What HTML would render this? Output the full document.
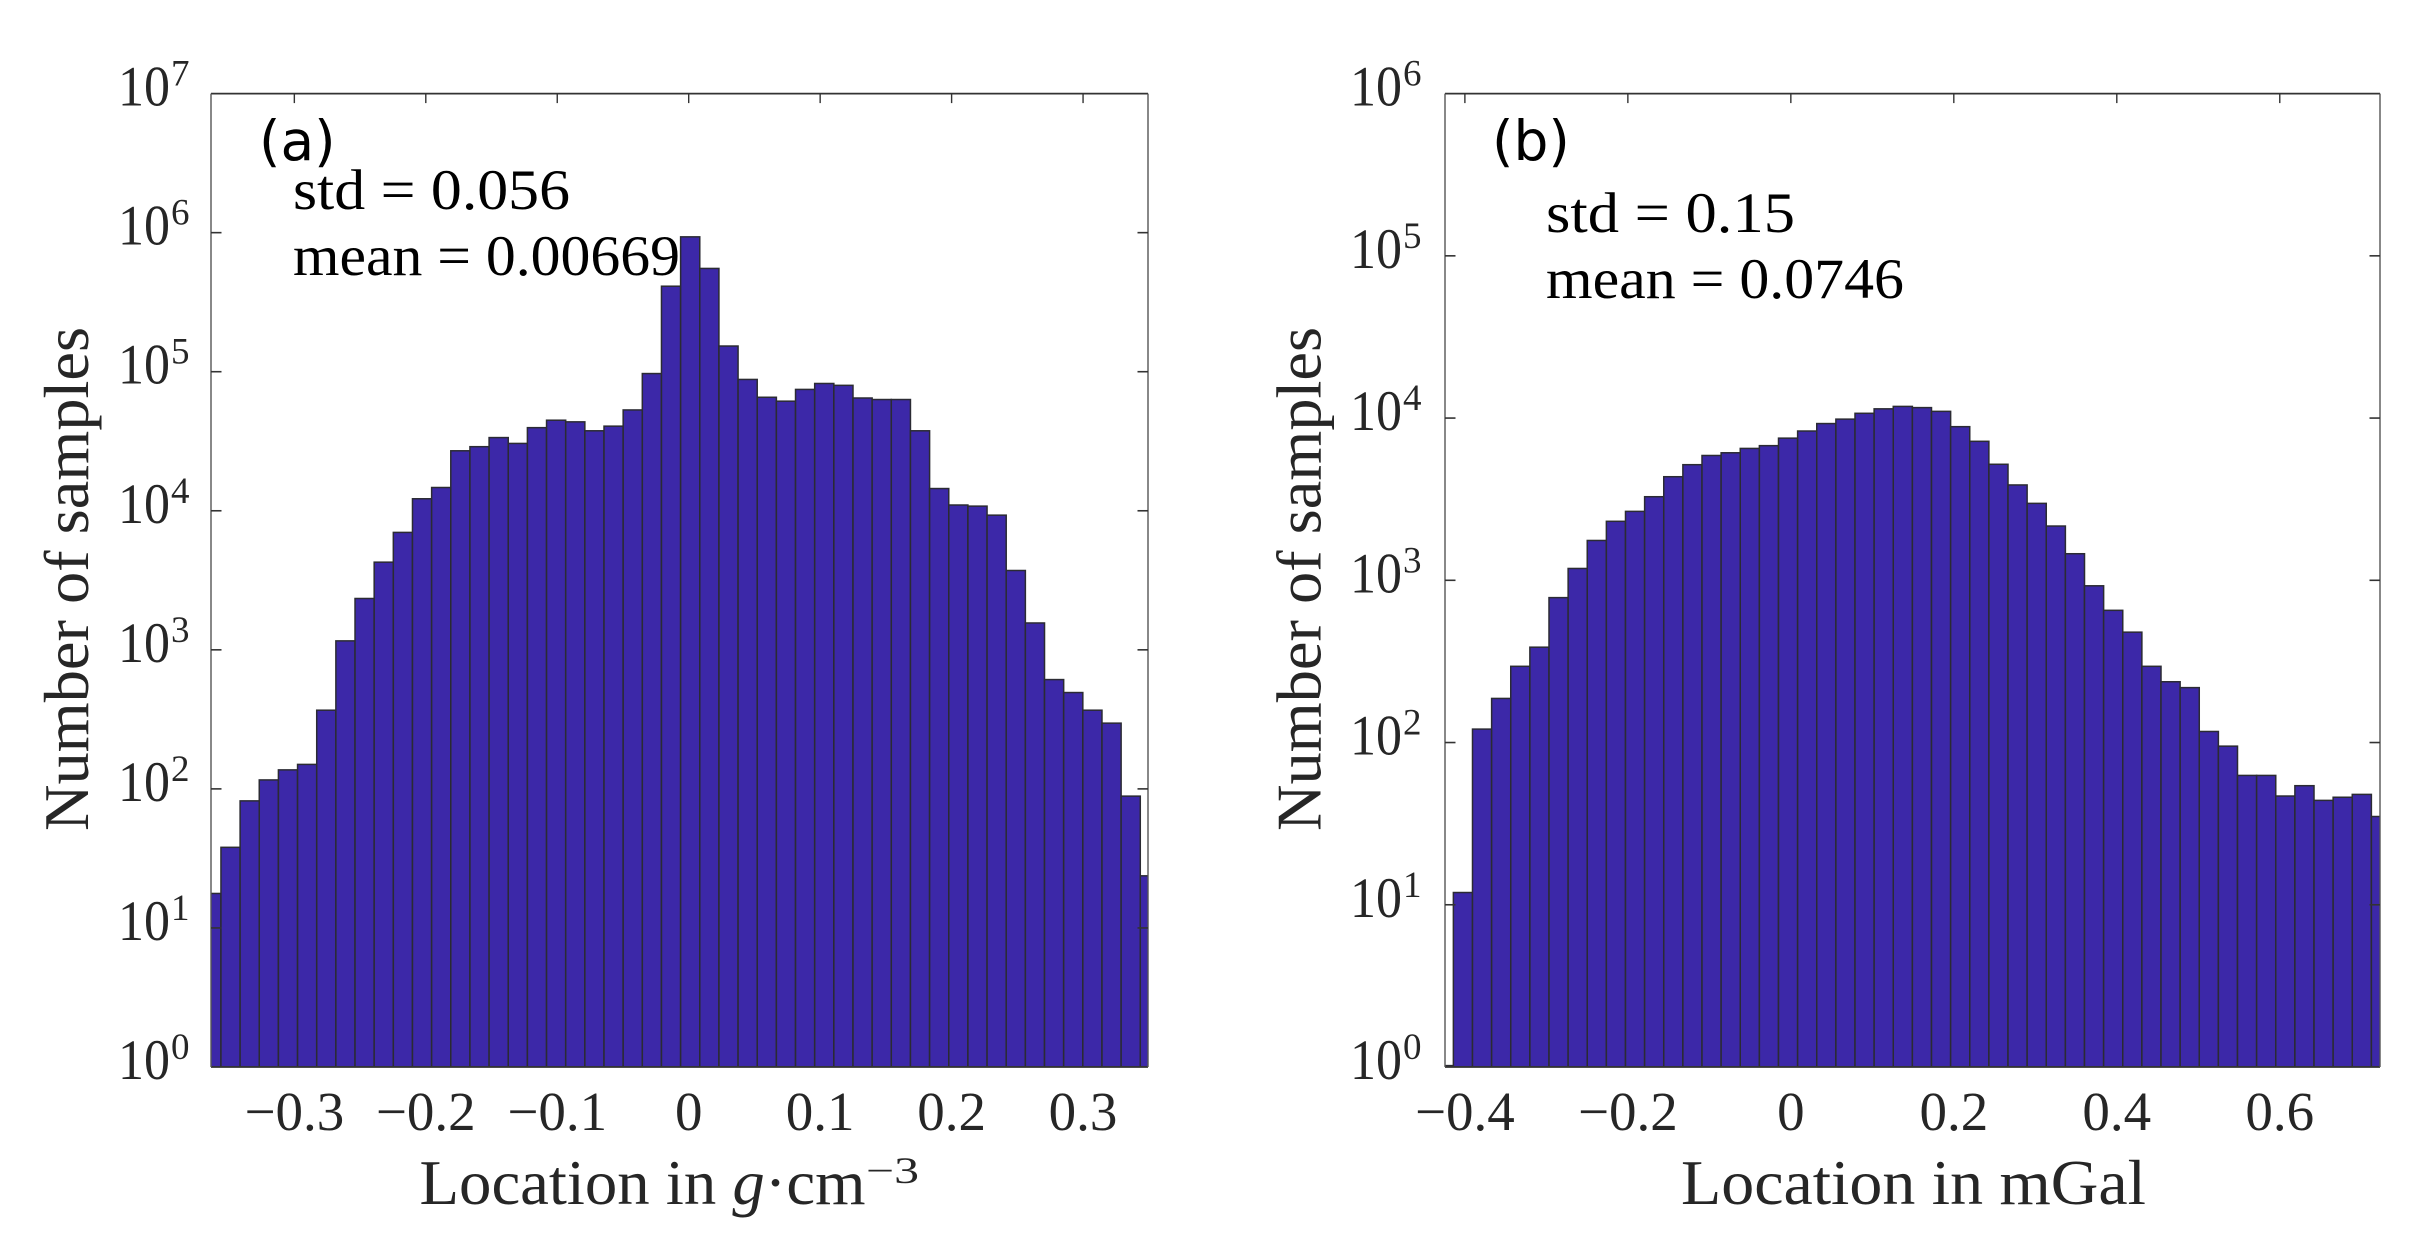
<!DOCTYPE html>
<html lang="en">
<head>
<meta charset="utf-8">
<title>Histograms of density and gravity misfit</title>
<style>
html,body{margin:0;padding:0;background:#fff;width:2427px;height:1257px;overflow:hidden}
svg{display:block}
text{font-family:"Liberation Serif","DejaVu Serif",serif;fill:#262626}
.tick{font-size:55px}
.ytick{font-size:57px}
.sup{font-size:37px}
.ann{font-size:57px;fill:#000}
.axt{font-size:63px}
.tag{font-family:"DejaVu Sans","Liberation Sans",sans-serif;font-size:55px;fill:#000}
</style>
</head>
<body>
<svg id="figure" xmlns="http://www.w3.org/2000/svg" width="2427" height="1257" viewBox="0 0 2427 1257">
  <rect width="2427" height="1257" fill="#fff"/>
  <defs>
    <clipPath id="clip-a"><rect x="211" y="93.6" width="937" height="973.4"/></clipPath>
    <clipPath id="clip-b"><rect x="1445" y="93.6" width="935" height="973.4"/></clipPath>
  </defs>
  <g id="panel-a"></g>
  <g id="panel-b"></g>

  <text class="tag" x="259" y="160">(a)</text>
  <text class="ann" x="293" y="209" textLength="277" lengthAdjust="spacingAndGlyphs">std = 0.056</text>
  <text class="ann" x="293" y="275" textLength="387" lengthAdjust="spacingAndGlyphs">mean = 0.00669</text>
  <text class="axt" transform="translate(88 831) rotate(-90)" textLength="504" lengthAdjust="spacingAndGlyphs">Number of samples</text>
  <text class="axt" x="419.5" y="1204" textLength="446" lengthAdjust="spacingAndGlyphs">Location in <tspan font-style="italic">g</tspan>·cm</text>
  <text class="sup" x="866" y="1183" textLength="53" lengthAdjust="spacingAndGlyphs">−3</text>

  <text class="tag" x="1492" y="160">(b)</text>
  <text class="ann" x="1546" y="232" textLength="249" lengthAdjust="spacingAndGlyphs">std = 0.15</text>
  <text class="ann" x="1546" y="298" textLength="358" lengthAdjust="spacingAndGlyphs">mean = 0.0746</text>
  <text class="axt" transform="translate(1320.6 831) rotate(-90)" textLength="504" lengthAdjust="spacingAndGlyphs">Number of samples</text>
  <text class="axt" x="1681" y="1204" textLength="465" lengthAdjust="spacingAndGlyphs">Location in mGal</text>
</svg>
<script>
// Panel (a): density histogram
const binStartA = -0.3704;
const binWidthA = 0.01457;
const countsA = [17.7,38,82,116,137,150,368,1160,2340,4270,6990,12200,14700,27000,28900,33600,30500,39600,44800,43600,37600,40600,53100,97000,412000,933000,553000,153000,88000,65500,61400,74600,82300,79800,64700,63100,63100,37600,14450,11000,10800,9300,3720,1560,611,493,368,297,88.7,23.7];
const xDomainA = [-0.3634, 0.3494];
const xTickValuesA = [-0.3,-0.2,-0.1,0,0.1,0.2,0.3];
const xTickLabelsA = ['−0.3','−0.2','−0.1','0','0.1','0.2','0.3'];
const yExponentsA = [0,1,2,3,4,5,6,7];

// Panel (b): gravity histogram
const binStartB = -0.4376;
const binWidthB = 0.02347;
const countsB = [1.02,11.9,121,187,295,387,782,1183,1760,2310,2660,3275,4350,5160,5880,6110,6500,6760,7520,8320,9250,9850,10700,11400,11800,11600,11000,8850,7190,5190,3870,2980,2160,1458,925,653,479,295,237,218,117,95,62.7,62.7,46.8,54.2,44,46,47.9,35];
const xDomainB = [-0.4244, 0.723];
const xTickValuesB = [-0.4,-0.2,0,0.2,0.4,0.6];
const xTickLabelsB = ['−0.4','−0.2','0','0.2','0.4','0.6'];
const yExponentsB = [0,1,2,3,4,5,6];

const SVG_NS = 'http://www.w3.org/2000/svg';

function make(parent, tag, attrs) {
  const el = document.createElementNS(SVG_NS, tag);
  for (const k in attrs) el.setAttribute(k, attrs[k]);
  parent.appendChild(el);
  return el;
}

function drawPanel(cfg) {
  const g = document.getElementById(cfg.id);
  const L = cfg.left, R = cfg.right, T = 93.6, B = 1067;
  const xScale = v => L + (v - cfg.xDomain[0]) / (cfg.xDomain[1] - cfg.xDomain[0]) * (R - L);
  const maxExp = cfg.yExponents[cfg.yExponents.length - 1];
  const yScale = c => B - Math.log10(c) / maxExp * (B - T);

  const bars = make(g, 'g', {'clip-path': 'url(#' + cfg.clip + ')'});
  
  
  cfg.counts.forEach((c, i) => {
    const x0 = xScale(cfg.binStart + i * cfg.binWidth);
    const x1 = xScale(cfg.binStart + (i + 1) * cfg.binWidth);
    const y = yScale(c);
    const bar = make(bars, 'rect', {x: x0, y: y, width: x1 - x0, height: B - y, fill: '#3c28a8', stroke: '#2b2b33', 'stroke-width': 1.5});
    
    
  });

  const frame = make(g, 'g', {stroke: '#333', fill: 'none'});
  
  
  make(frame, 'line', {x1: L, y1: T, x2: R, y2: T, 'stroke-width': 1.8});
  make(frame, 'line', {x1: L, y1: B, x2: R, y2: B, 'stroke-width': 1.8});
  make(frame, 'line', {x1: L, y1: T, x2: L, y2: B, 'stroke-width': 1.4, stroke: '#555'});
  make(frame, 'line', {x1: R, y1: T, x2: R, y2: B, 'stroke-width': 1.4, stroke: '#555'});

  cfg.xTicks.forEach((v, i) => {
    const x = xScale(v);
    const tick = make(g, 'line', {x1: x, y1: T, x2: x, y2: T + 9.5, stroke: '#333', 'stroke-width': 1.4});
    
    
    const label = make(g, 'text', {x: x, y: 1130, 'text-anchor': 'middle', 'class': 'tick'});
    
    
    label.textContent = cfg.xLabels[i];
  });

  cfg.yExponents.forEach(e => {
    const y = yScale(Math.pow(10, e));
    if (e > 0 && e < maxExp) {
      const left = make(g, 'line', {x1: L, y1: y, x2: L + 10.5, y2: y, stroke: '#333', 'stroke-width': 1.6});
      
      
      const right = make(g, 'line', {x1: R - 10.5, y1: y, x2: R, y2: y, stroke: '#333', 'stroke-width': 1.6});
      
      
    }
    const label = make(g, 'text', {x: cfg.yLabelX, y: y + 12, 'class': 'ytick', textLength: 52, lengthAdjust: 'spacingAndGlyphs'});
    
    
    label.textContent = '10';
    const sup = make(g, 'text', {x: cfg.yLabelX + 53, y: y - 8, 'class': 'sup'});
    
    
    sup.textContent = String(e);
  });
}

drawPanel({id: 'panel-a', clip: 'clip-a', left: 211, right: 1148, xDomain: xDomainA, binStart: binStartA, binWidth: binWidthA, counts: countsA, xTicks: xTickValuesA, xLabels: xTickLabelsA, yExponents: yExponentsA, yLabelX: 118});
drawPanel({id: 'panel-b', clip: 'clip-b', left: 1445, right: 2380, xDomain: xDomainB, binStart: binStartB, binWidth: binWidthB, counts: countsB, xTicks: xTickValuesB, xLabels: xTickLabelsB, yExponents: yExponentsB, yLabelX: 1350});
</script>
</body>
</html>
